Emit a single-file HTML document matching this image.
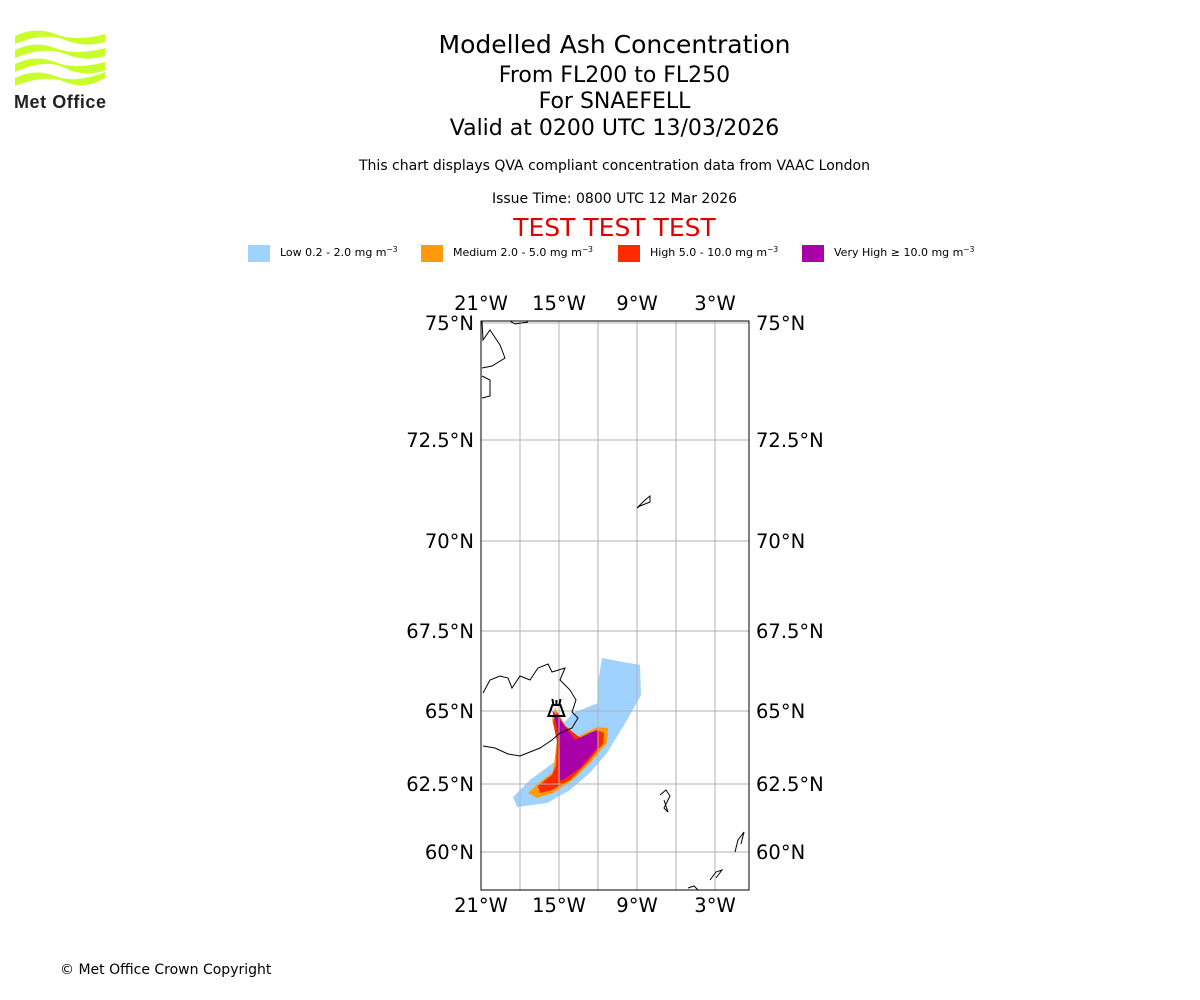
<!DOCTYPE html>
<html><head><meta charset="utf-8"><style>
body{margin:0;width:1200px;height:1000px;background:#fff;font-family:"Liberation Sans","DejaVu Sans",sans-serif;position:relative;overflow:hidden}
.t{position:absolute;left:0;width:1229px;text-align:center;color:#000;font-family:"DejaVu Sans","Liberation Sans",sans-serif}
</style></head><body>
<div class="t" style="top:30px;font-size:25px">Modelled Ash Concentration</div>
<div class="t" style="top:63px;font-size:22px">From FL200 to FL250</div>
<div class="t" style="top:89px;font-size:22px">For SNAEFELL</div>
<div class="t" style="top:116px;font-size:22px">Valid at 0200 UTC 13/03/2026</div>
<div class="t" style="top:158px;font-size:14px">This chart displays QVA compliant concentration data from VAAC London</div>
<div class="t" style="top:191px;font-size:14px">Issue Time: 0800 UTC 12 Mar 2026</div>
<div class="t" style="top:213px;font-size:25px;color:#e00000">TEST TEST TEST</div>
<svg style="position:absolute;left:10px;top:28px" width="100" height="86">
<g fill="#c8ff2a">
<path d="M5 8 Q25 -2 45 6 T95 6 V14 Q75 20 55 12 T5 16Z"/>
<path d="M5 22 Q25 12 45 20 T95 20 V28 Q75 34 55 26 T5 30Z"/>
<path d="M5 36 Q25 26 45 34 T95 34 V42 Q75 50 55 40 T5 44Z"/>
<path d="M5 50 Q25 40 45 48 T95 44 V50 Q75 62 55 54 T5 58Z"/>
</g>
<text x="4" y="80" font-size="18" font-weight="bold" fill="#222" font-family="Liberation Sans,sans-serif" textLength="92">Met Office</text>
</svg>
<svg id="leg" style="position:absolute;left:0;top:240px" width="1200" height="30" font-family="DejaVu Sans,sans-serif" font-size="11">
<g><rect x="248" y="5" width="22" height="17" fill="#a0d2ff"/><text x="280" y="16">Low 0.2 - 2.0 mg m<tspan dy="-4" font-size="7.5">−3</tspan></text></g>
<g><rect x="421" y="5" width="22" height="17" fill="#ff9a0a"/><text x="453" y="16">Medium 2.0 - 5.0 mg m<tspan dy="-4" font-size="7.5">−3</tspan></text></g>
<g><rect x="618" y="5" width="22" height="17" fill="#ff2a00"/><text x="650" y="16">High 5.0 - 10.0 mg m<tspan dy="-4" font-size="7.5">−3</tspan></text></g>
<g><rect x="802" y="5" width="22" height="17" fill="#aa00aa"/><text x="834" y="16">Very High ≥ 10.0 mg m<tspan dy="-4" font-size="7.5">−3</tspan></text></g>
</svg>
<svg id="map" style="position:absolute;left:0;top:0" width="1200" height="1000" font-family="DejaVu Sans,sans-serif" font-size="19.5"></svg>
<div style="position:absolute;left:60px;top:962px;font-size:14px;font-family:'DejaVu Sans',sans-serif">© Met Office Crown Copyright</div>
<script>
const lonTicks=[-21,-15,-9,-3];
const lonLabels=["21°W","15°W","9°W","3°W"];
const lonGrid=[-18,-15,-12,-9,-6,-3];
const latTicks=[75,72.5,70,67.5,65,62.5,60];
const latLabels=["75°N","72.5°N","70°N","67.5°N","65°N","62.5°N","60°N"];
const lowLon=[-11.69,-10.08,-8.77,-8.69,-9.77,-11.31,-12.62,-14.15,-15.92,-18.23,-18.54,-17.23,-15.15,-14.92,-13.92,-12.0,-12.0];
const lowLat=[66.66,66.53,66.44,65.5,64.69,63.56,62.88,62.28,61.8,61.65,62.02,62.64,63.32,64.45,64.93,65.25,65.88];
const medLon=[-15.31,-14.69,-13.62,-12.08,-11.23,-11.31,-12.62,-13.92,-15.46,-16.69,-17.38,-16.46,-15.46,-15.15,-15.54];
const medLat=[65.1,64.59,64.11,64.45,64.42,63.9,63.22,62.64,62.17,61.99,62.17,62.57,62.91,64.01,64.7];
const highLon=[-15.15,-14.54,-13.38,-12.08,-11.54,-11.62,-12.85,-14.15,-15.54,-16.46,-16.62,-15.54,-15.23,-15.15,-15.46];
const highLat=[64.97,64.49,64.08,64.35,64.25,63.87,63.22,62.64,62.28,62.17,62.43,62.81,63.15,63.94,64.62];
const vhLon=[-15.54,-14.92,-13.77,-12.62,-12.0,-12.0,-13.38,-14.69,-14.92,-14.92,-15.15];
const vhLat=[65.03,64.69,64.01,64.25,64.35,63.77,63.05,62.64,62.64,63.66,64.45];
const volcano=[-15.2,65.0];
const X0=481,X1=749,Y0=321,Y1=890;
const latPx=[[75.06,321],[75,323],[72.5,440],[70,541],[67.5,631],[65,711],[62.5,784],[60,852],[58.6,890]];
function xs(lon){return 481+(lon+21)*13;}
function ys(lat){for(let i=0;i<latPx.length-1;i++){const a=latPx[i],b=latPx[i+1];if(lat<=a[0]&&lat>=b[0])return a[1]+(lat-a[0])/(b[0]-a[0])*(b[1]-a[1]);}return lat>75?321:890;}
const svg=document.getElementById('map');const NS='http://www.w3.org/2000/svg';
function mk(t,a,p){const e=document.createElementNS(NS,t);for(const k in a)e.setAttribute(k,a[k]);(p||svg).appendChild(e);return e;}
function poly(lo,la,fill,name){const e=mk('polygon',{points:lo.map((v,i)=>xs(v).toFixed(1)+','+ys(la[i]).toFixed(1)).join(' '),fill:fill});

}
poly(lowLon,lowLat,'#a0d2ff','ash-low');
poly(medLon,medLat,'#ff9a0a','ash-medium');
poly(highLon,highLat,'#ff2a00','ash-high');
poly(vhLon,vhLat,'#aa00aa','ash-very-high');
lonGrid.forEach(l=>{const e=mk('line',{x1:xs(l),x2:xs(l),y1:Y0,y2:Y1,stroke:'#b0b0b0','stroke-width':1});

});
latTicks.forEach(l=>{const e=mk('line',{x1:X0,x2:X1,y1:ys(l),y2:ys(l),stroke:'#b0b0b0','stroke-width':1});

});
const coast=mk('g',{fill:'none',stroke:'#000','stroke-width':1});


["M483 693 L490 680 L500 676 L508 678 L512 688 L520 676 L530 680 L538 668 L548 664 L552 672 L565 668 L560 680 L570 690 L576 700 L572 712 L578 718 L572 728 L560 733 L552 740 L540 748 L520 756 L508 754 L495 748 L483 746",
"M482 321 L483 340 L490 330 L500 345 L505 358 L492 366 L482 368","M482 376 L490 380 L490 396 L482 398","M510 321 L515 324 L528 322","M637 508 L645 500 L650 496 L650 502 L640 506Z","M660 795 L666 790 L670 796 L664 808 L668 812 L664 800","M710 880 L716 872 L722 870 L716 878","M735 852 L738 840 L744 832 L741 844","M688 888 L694 886 L698 890"].forEach(d=>mk('path',{d:d},coast));
const v=mk('g',{fill:'none',stroke:'#000','stroke-width':2});


const vx=xs(volcano[0]),vy=ys(volcano[1]);
mk('path',{d:`M${vx-8} ${vy+5} L${vx-4} ${vy-6} L${vx+4} ${vy-6} L${vx+8} ${vy+5}Z M${vx-3} ${vy-6} L${vx-4} ${vy-12} M${vx+3} ${vy-6} L${vx+4} ${vy-12} M${vx} ${vy-6} L${vx} ${vy-11}`},v);
mk('rect',{x:X0,y:Y0,width:X1-X0,height:Y1-Y0,fill:'none',stroke:'#000','stroke-width':1});
lonTicks.forEach((l,i)=>{[310,912].forEach(y=>{const t=mk('text',{x:xs(l),y:y,'text-anchor':'middle'});t.textContent=lonLabels[i];

});});
latTicks.forEach((l,i)=>{const y=ys(l)+7;
const a=mk('text',{x:474,y:y,'text-anchor':'end'});a.textContent=latLabels[i];


const b=mk('text',{x:756,y:y});b.textContent=latLabels[i];

});
</script>
</body></html>
